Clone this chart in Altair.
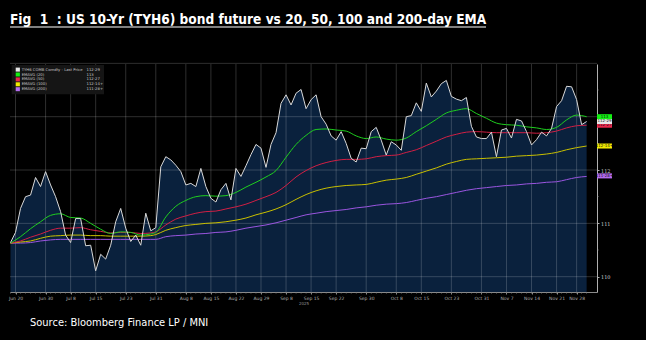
import altair as alt
import pandas as pd

# ---------------- data ----------------
PRICE = [
    110.64, 110.83, 111.28, 111.50, 111.53, 111.86, 111.69, 111.97, 111.72, 111.50,
    111.22, 110.78, 110.64, 111.09, 111.09, 110.58, 110.59, 110.11, 110.42, 110.33,
    110.59, 111.03, 111.28, 110.91, 110.66, 110.78, 110.59, 111.19, 110.86, 110.92,
    112.06, 112.25, 112.19, 112.09, 111.97, 111.72, 111.75, 111.69, 112.03, 111.69,
    111.47, 111.40, 111.63, 111.75, 111.44, 112.03, 111.88, 112.08, 112.29, 112.48,
    112.41, 112.05, 112.48, 112.70, 113.25, 113.41, 113.22, 113.44, 113.51, 113.15,
    113.32, 113.41, 113.00, 112.86, 112.64, 112.56, 112.72, 112.50, 112.22, 112.15,
    112.41, 112.40, 112.72, 112.80, 112.56, 112.28, 112.53, 112.47, 112.37, 113.00,
    113.02, 113.26, 113.10, 113.63, 113.37, 113.48, 113.62, 113.68, 113.38, 113.33,
    113.30, 113.36, 112.82, 112.62, 112.59, 112.59, 112.71, 112.25, 112.75, 112.78,
    112.60, 112.95, 112.92, 112.72, 112.47, 112.57, 112.71, 112.64, 112.78, 113.19,
    113.30, 113.57, 113.56, 113.32, 112.85, 112.91,
]

EMA_IDX = [0, 2, 4, 6, 8, 10, 12, 14, 16, 18, 20, 22, 24, 26, 28, 29, 31, 33, 35, 37,
           39, 41, 43, 45, 47, 49, 51, 53, 55, 57, 59, 61, 63, 65, 67, 69, 71, 73, 75, 77,
           79, 81, 83, 85, 87, 89, 91, 93, 95, 97, 99, 101, 103, 105, 107, 109, 111, 113, 115]

EMA20 = [110.63, 110.75, 110.90, 111.03, 111.15, 111.18, 111.11, 111.10, 111.00, 110.89,
         110.81, 110.84, 110.83, 110.78, 110.80, 110.83, 111.12, 111.32, 111.43, 111.50,
         111.52, 111.51, 111.52, 111.58, 111.68, 111.77, 111.87, 111.99, 112.24, 112.48,
         112.65, 112.76, 112.77, 112.75, 112.73, 112.64, 112.59, 112.62, 112.58, 112.56,
         112.60, 112.72, 112.83, 112.95, 113.07, 113.12, 113.15, 113.06, 112.97, 112.88,
         112.85, 112.84, 112.81, 112.79, 112.76, 112.80, 112.94, 113.03, 113.00]

EMA50 = [110.63, 110.67, 110.74, 110.80, 110.87, 110.91, 110.91, 110.92, 110.88, 110.85,
         110.82, 110.83, 110.83, 110.81, 110.82, 110.84, 110.97, 111.08, 111.14, 111.19,
         111.22, 111.23, 111.27, 111.31, 111.36, 111.43, 111.50, 111.58, 111.71, 111.87,
         111.99, 112.08, 112.14, 112.18, 112.20, 112.20, 112.21, 112.25, 112.27, 112.28,
         112.33, 112.38, 112.46, 112.54, 112.62, 112.67, 112.71, 112.72, 112.71, 112.70,
         112.70, 112.70, 112.70, 112.69, 112.70, 112.73, 112.79, 112.83, 112.84]

EMA100 = [110.63, 110.65, 110.67, 110.72, 110.76, 110.77, 110.78, 110.78, 110.77, 110.77,
          110.76, 110.76, 110.76, 110.76, 110.77, 110.79, 110.87, 110.92, 110.96, 110.98,
          111.00, 111.01, 111.03, 111.06, 111.10, 111.16, 111.21, 111.27, 111.35, 111.45,
          111.54, 111.61, 111.66, 111.69, 111.71, 111.72, 111.73, 111.77, 111.81, 111.83,
          111.86, 111.92, 111.98, 112.04, 112.11, 112.16, 112.20, 112.21, 112.22, 112.23,
          112.24, 112.26, 112.27, 112.28, 112.30, 112.33, 112.38, 112.42, 112.45]

EMA200 = [110.63, 110.63, 110.64, 110.67, 110.69, 110.70, 110.70, 110.70, 110.70, 110.70,
          110.70, 110.70, 110.70, 110.70, 110.70, 110.70, 110.75, 110.77, 110.78, 110.80,
          110.81, 110.83, 110.84, 110.87, 110.91, 110.94, 110.97, 111.01, 111.06, 111.11,
          111.16, 111.19, 111.22, 111.24, 111.26, 111.29, 111.31, 111.34, 111.36, 111.37,
          111.39, 111.43, 111.47, 111.50, 111.54, 111.58, 111.62, 111.65, 111.67, 111.69,
          111.71, 111.72, 111.74, 111.75, 111.77, 111.78, 111.82, 111.86, 111.88]

TICK_IDX = [1, 7, 12, 17, 23, 29, 35, 40, 45, 50, 55, 60, 65, 71, 77, 82, 88, 94, 99, 104, 109, 113]
TICK_LABELS = ["Jun 20", "Jun 30", "Jul 8", "Jul 15", "Jul 23", "Jul 31", "Aug 8", "Aug 15",
               "Aug 22", "Aug 29", "Sep 8", "Sep 15", "Sep 22", "Sep 30", "Oct 8", "Oct 15",
               "Oct 23", "Oct 31", "Nov 7", "Nov 14", "Nov 21", "Nov 28"]
Y_LABELS = [110, 111, 112]
GRID_Y = [110, 111, 112, 113, 114]
MINOR_Y = [110.5, 111.5, 112.5, 113.5]

SERIES = ["TYH6 COMB Comdty - Last Price", "EMAVG (20)", "EMAVG (50)", "EMAVG (100)", "EMAVG (200)"]
LAST_TXT = ["112-29", "113", "112-27", "112-14+", "111-28+"]
LAST_VAL = [112.91, 113.00, 112.84, 112.45, 111.89]

TITLE = "Fig\u00a0 1\u00a0 : US 10-Yr (TYH6) bond future vs 20, 50, 100 and 200-day EMA"
SOURCE = "Source: Bloomberg Finance LP / MNI"
YEAR = "2025"

# ---------------- styling ----------------
LINE_COLORS = ["#d9d9d9", "#1fcf1f", "#d21f44", "#c9c000", "#9a55e0"]
TAG_COLORS = ["#e8e8e8", "#12f012", "#e8284c", "#f2ea00", "#b46cf0"]
AREA_COLOR = "#0a213d"
FONT = "Liberation Sans Narrow, DejaVu Sans Condensed, Roboto, sans-serif"

W, H = 587, 228
Y_DOM = [109.713, 113.988]
X_DOM = [-0.1, 117.07]

xs = alt.Scale(domain=X_DOM, nice=False, zero=False)
ys = alt.Scale(domain=Y_DOM, nice=False, zero=False)

idx_s = ",".join(str(v) for v in TICK_IDX)
lab_s = ",".join("'" + s + "'" for s in TICK_LABELS)
label_expr = f"[{lab_s}][indexof([{idx_s}], datum.value)]"

x_axis = alt.Axis(values=TICK_IDX, labelExpr=label_expr, grid=False, domainColor="#8a8a8a",
                  tickColor="#8a8a8a", tickSize=2, labelFontSize=4.5, labelColor="#b0b0b0",
                  labelPadding=1.5, labelOverlap=False, labelFlush=False, title=YEAR,
                  titleFontSize=4, titleColor="#909090", titlePadding=1, titleFontWeight="normal",
                  labelFont="DejaVu Sans", titleFont="DejaVu Sans")
y_axis = alt.Axis(orient="right", values=Y_LABELS, grid=False, domainColor="#b0b0b0",
                  tickColor="#b0b0b0", tickSize=2, labelFontSize=5, labelColor="#d0d0d0",
                  labelPadding=1.5, title=None, labelFont="DejaVu Serif")


def X(field):
    return alt.X(field, scale=xs, axis=x_axis)


def Y(field):
    return alt.Y(field, scale=ys, axis=y_axis)


price_df = pd.DataFrame({"i": list(range(len(PRICE))), "price": PRICE})
ema_df = pd.DataFrame({"i": EMA_IDX, "e20": EMA20, "e50": EMA50, "e100": EMA100, "e200": EMA200})

area = alt.Chart(price_df).mark_area(color=AREA_COLOR, opacity=1).encode(
    x=X("i:Q"), y=Y("price:Q"), y2=alt.datum(Y_DOM[0]))

grid_h = alt.Chart(pd.DataFrame({"v": GRID_Y})).mark_rule(color="#ffffff", opacity=0.18, strokeWidth=1).encode(
    y=Y("v:Q"))
grid_v = alt.Chart(pd.DataFrame({"i": TICK_IDX})).mark_rule(color="#ffffff", opacity=0.18, strokeWidth=1).encode(
    x=X("i:Q"))

minor_x = alt.Chart(price_df).mark_tick(color="#777777", size=2, thickness=0.6).encode(
    x=X("i:Q"), y=alt.value(H + 1))
minor_y = alt.Chart(pd.DataFrame({"v": MINOR_Y})).mark_tick(color="#999999", size=2, thickness=0.6).encode(
    y=Y("v:Q"), x=alt.value(W + 1))


def ema_line(col, color):
    return alt.Chart(ema_df).mark_line(color=color, strokeWidth=1, interpolate="monotone").encode(
        x=X("i:Q"), y=Y(f"{col}:Q"))


lines = [ema_line("e200", LINE_COLORS[4]), ema_line("e100", LINE_COLORS[3]),
         ema_line("e50", LINE_COLORS[2]), ema_line("e20", LINE_COLORS[1])]

price_line = alt.Chart(price_df).mark_line(color=LINE_COLORS[0], strokeWidth=1).encode(
    x=X("i:Q"), y=Y("price:Q"))

# right-hand value tags (draw order: purple, yellow, red, white, green)
tags = []
for k in [4, 3, 2, 0, 1]:
    d = pd.DataFrame({"v": [LAST_VAL[k]], "t": [LAST_TXT[k]]})
    tags.append(alt.Chart(d).mark_tick(color=TAG_COLORS[k], size=15, thickness=5, opacity=1).encode(
        y=Y("v:Q"), x=alt.value(W + 7.5)))
    tags.append(alt.Chart(d).mark_text(color="#111111", fontSize=4, font="DejaVu Sans", align="center",
                                       baseline="middle").encode(
        y=Y("v:Q"), x=alt.value(W + 7.5), text="t:N"))

# legend box (top-left)
one = pd.DataFrame({"a": [0]})
legend = [alt.Chart(one).mark_rect(color="#151515").encode(
    x=alt.value(1.7), x2=alt.value(94), y=alt.value(1), y2=alt.value(30.3))]
for k in range(5):
    yc = 5.6 + 4.9 * k
    legend.append(alt.Chart(one).mark_rect(color=TAG_COLORS[k]).encode(
        x=alt.value(5.7), x2=alt.value(9.9), y=alt.value(yc - 2), y2=alt.value(yc + 2)))
    legend.append(alt.Chart(one).mark_text(color="#c8c8c8", fontSize=3.8, font="DejaVu Sans",
                                           align="left", baseline="middle").encode(
        x=alt.value(11.7), y=alt.value(yc), text=alt.value(SERIES[k])))
    legend.append(alt.Chart(one).mark_text(color="#c8c8c8", fontSize=3.8, font="DejaVu Sans",
                                           align="left", baseline="middle").encode(
        x=alt.value(76.5), y=alt.value(yc), text=alt.value(LAST_TXT[k])))

title = alt.Chart(one).mark_text(color="white", fontSize=13.6, font=FONT, fontWeight="bold",
                                 align="left", baseline="alphabetic").encode(
    x=alt.value(0), y=alt.value(-40), text=alt.value(TITLE))
underline = alt.Chart(one).mark_rule(color="white", strokeWidth=1.2).encode(
    x=alt.value(0), x2=alt.value(476), y=alt.value(-37))
source = alt.Chart(one).mark_text(color="white", fontSize=11, font=FONT,
                                  align="left", baseline="alphabetic").encode(
    x=alt.value(20), y=alt.value(262), text=alt.value(SOURCE))

chart = alt.layer(area, grid_h, grid_v, minor_x, minor_y, *lines, price_line, *tags, *legend,
                  title, underline, source).properties(
    width=W, height=H, background="black",
    padding={"left": 10, "top": 64, "right": 49, "bottom": 48},
    autosize=alt.AutoSizeParams(type="none"),
).configure_view(stroke=None)

chart.save("out.html", embed_options={"renderer": "svg", "actions": False})
